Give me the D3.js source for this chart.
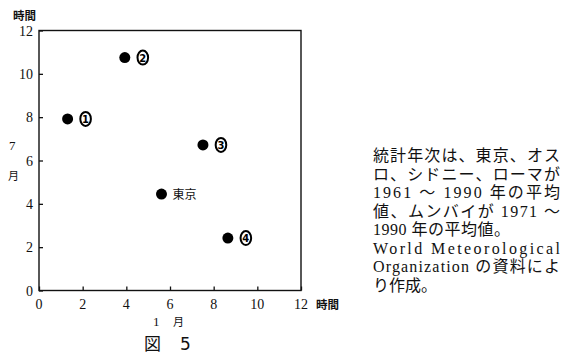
<!DOCTYPE html>
<html><head><meta charset="utf-8">
<script src="https://cdn.jsdelivr.net/npm/d3@7"></script>
<style>body{margin:0;background:#fff}svg{display:block}</style>
</head><body>
<svg id="c" width="576" height="356"></svg>
<script>
const labels = ["1", "2", "3", "東京", "4"];
const janHours = [1.31, 3.93, 7.51, 5.61, 8.65];
const julHours = [7.92, 10.75, 6.72, 4.45, 2.42];
const ticks = [0, 2, 4, 6, 8, 10, 12];
const noteLines = ["統計年次は、東京、オス", "ロ、シドニー、ローマが", "1961 ～ 1990 年の平均", "値、ムンバイが 1971 ～", "1990 年の平均値。", "World Meteorological", "Organization の資料によ", "り作成。"];
const lineWidths = [187, 187, 187, 187, 137, 187, 187, 0];

const svg = d3.select("#c");
const x = d3.scaleLinear().domain([0, 12]).range([39, 301]);
const y = d3.scaleLinear().domain([0, 12]).range([290.5, 30.5]);
const serif = "'Liberation Serif','Noto Sans CJK JP',serif";
const cjk = "'Noto Sans CJK JP',sans-serif";

// frame
svg.append("rect").attr("x", x(0)).attr("y", y(12)).attr("width", x(12) - x(0)).attr("height", y(0) - y(12))
  .attr("fill", "none").attr("stroke", "#111").attr("stroke-width", 1.4);

const xAxis = svg.append("g").attr("transform", `translate(0,${y(0)})`)
  .call(d3.axisTop(x).tickValues(ticks).tickSize(4).tickFormat(""));
const yAxis = svg.append("g").attr("transform", `translate(${x(0)},0)`)
  .call(d3.axisRight(y).tickValues(ticks).tickSize(4).tickFormat(""));
[xAxis, yAxis].forEach(a => { a.select(".domain").remove(); a.selectAll("line").attr("stroke", "#111").attr("stroke-width", 1.3); });

// tick labels
svg.append("g").selectAll("text").data(ticks).join("text")
  .attr("x", d => x(d)).attr("y", 309).attr("text-anchor", "middle")
  .attr("font-family", serif).attr("font-size", 14).attr("fill", "#111").text(d => d);
svg.append("g").selectAll("text").data(ticks).join("text")
  .attr("x", 33).attr("y", d => y(d) + 5).attr("text-anchor", "end")
  .attr("font-family", serif).attr("font-size", 14).attr("fill", "#111").text(d => d);

// axis titles
svg.append("text").attr("x", 13).attr("y", 20).attr("font-family", cjk).attr("font-weight", "bold")
  .attr("font-size", 11.5).attr("fill", "#111").text("時間");
svg.append("text").attr("x", 316).attr("y", 309).attr("font-family", cjk).attr("font-weight", "bold")
  .attr("font-size", 11.5).attr("fill", "#111").text("時間");
svg.append("text").attr("x", 9).attr("y", 150).attr("font-family", serif).attr("font-size", 13).attr("fill", "#111").text("7");
svg.append("text").attr("x", 8).attr("y", 180).attr("font-family", cjk).attr("font-size", 11).attr("fill", "#111").text("月");
svg.append("text").attr("x", 153).attr("y", 326).attr("font-family", serif).attr("font-size", 13).attr("fill", "#111").text("1");
svg.append("text").attr("x", 173).attr("y", 326).attr("font-family", cjk).attr("font-size", 11).attr("fill", "#111").text("月");
svg.append("text").attr("x", 144).attr("y", 350).attr("font-family", cjk).attr("font-size", 17).attr("fill", "#111").text("図");
svg.append("text").attr("x", 180).attr("y", 350).attr("font-family", "'DejaVu Sans',sans-serif").attr("font-size", 17).attr("fill", "#111").text("5");

// points
const pts = labels.map((l, i) => ({ l, x: janHours[i], y: julHours[i] }));
svg.append("g").selectAll("circle").data(pts).join("circle")
  .attr("cx", d => x(d.x)).attr("cy", d => y(d.y)).attr("r", 5.5).attr("fill", "#000");

const lab = svg.append("g").selectAll("g").data(pts).join("g")
  .attr("transform", d => `translate(${x(d.x)},${y(d.y)})`);
lab.filter(d => d.l !== "東京").append("ellipse").attr("cx", 18).attr("cy", 0).attr("rx", 5.3).attr("ry", 7)
  .attr("fill", "none").attr("stroke", "#000").attr("stroke-width", 2);
lab.filter(d => d.l !== "東京").append("text").attr("x", 18).attr("y", 4).attr("text-anchor", "middle")
  .attr("font-family", "'DejaVu Sans',sans-serif").attr("font-weight", "bold").attr("font-size", 10).attr("fill", "#000").text(d => d.l);
lab.filter(d => d.l === "東京").append("text").attr("x", 11).attr("y", 4.5)
  .attr("font-family", cjk).attr("font-size", 12).attr("fill", "#111").text(d => d.l);

// note
svg.append("g").selectAll("text").data(noteLines).join("text")
  .attr("x", 373).attr("y", (d, i) => 161 + i * 18.5)
  .attr("font-family", serif).attr("font-size", 16).attr("fill", "#111")
  .each(function (d, i) { if (lineWidths[i]) d3.select(this).attr("textLength", lineWidths[i]).attr("lengthAdjust", "spacing"); })
  .text(d => d);
</script>
</body></html>
